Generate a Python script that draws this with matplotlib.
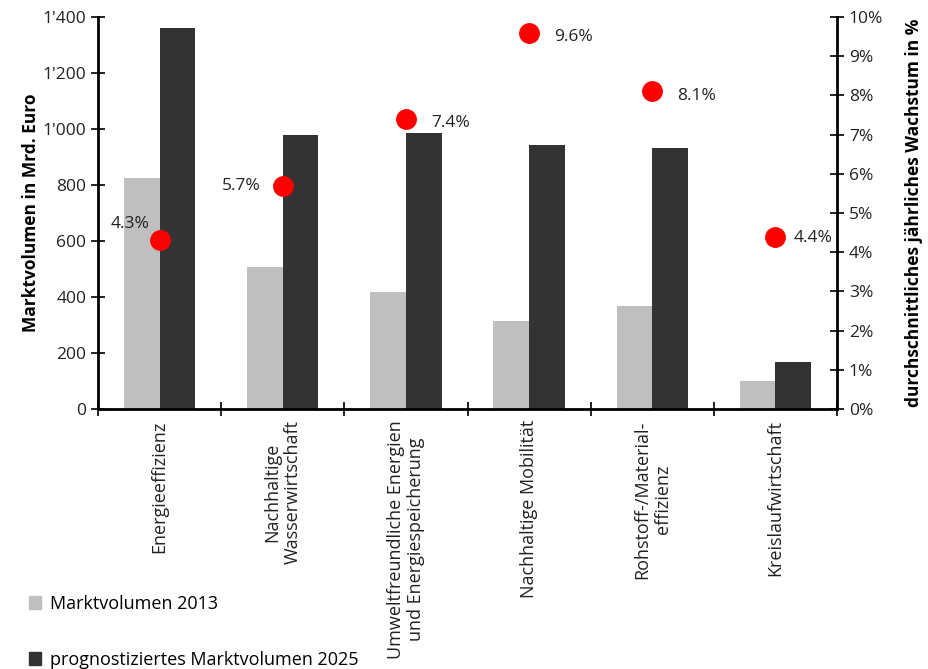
import numpy as np
import matplotlib; matplotlib.use("Agg"); import matplotlib.pyplot as plt
from matplotlib.ticker import FuncFormatter, PercentFormatter
from matplotlib.patches import Patch

plt.rcParams["font.family"] = ["Open Sans", "DejaVu Sans"]

categories = ["Energieeffizienz", "Nachhaltige\nWasserwirtschaft",
              "Umweltfreundliche Energien\nund Energiespeicherung", "Nachhaltige Mobilität",
              "Rohstoff-/Material-\neffizienz", "Kreislaufwirtschaft"]
vol_2013 = [825, 507, 418, 314, 368, 100]
vol_2025 = [1361, 979, 986, 943, 932, 168]
growth = [4.3, 5.7, 7.4, 9.6, 8.1, 4.4]
# label placement for the growth values (offset in points)
lab_off = [(-21, 12), (-30, 0), (32, -3), (32, -3), (32, -3), (27, -1)]

fig = plt.figure(figsize=(9.29, 6.69), dpi=100)
ax = fig.add_axes([0.1055, 0.3886, 0.7955, 0.586])
x = np.arange(len(categories))
w = 0.29
ax.bar(x - w / 2, vol_2013, w, color="#bfbfbf")
ax.bar(x + w / 2, vol_2025, w, color="#333333")
ax.set_xlim(-0.5, len(categories) - 0.5)
ax.set_ylim(0, 1400)
ax.set_yticks(range(0, 1401, 200))
ax.yaxis.set_major_formatter(FuncFormatter(lambda v, p: f"{int(v):,}".replace(",", "'")))
ax.set_xticks(np.arange(len(categories) + 1) - 0.5)
ax.set_xticklabels([])
ax.set_xticks(x, minor=True)
ax.set_xticklabels(categories, minor=True, rotation=90, va="top", ha="center",
                   multialignment="center", fontsize=13, color="#222222")
ax.tick_params(axis="x", which="minor", length=0, pad=8)
ax.tick_params(axis="x", which="major", direction="inout", length=10, width=1.2)
ax.tick_params(axis="y", direction="inout", length=10, width=1.2, labelsize=12.5, labelcolor="#222222")
for s in ["top", "right"]:
    ax.spines[s].set_visible(False)
for s in ["left", "bottom"]:
    ax.spines[s].set_linewidth(2)
ax.set_ylabel("Marktvolumen in Mrd. Euro", fontsize=12.5, fontweight="bold", labelpad=2)

ax2 = ax.twinx()
ax2.set_ylim(0, 10)
ax2.set_yticks(range(0, 11))
ax2.yaxis.set_major_formatter(PercentFormatter(decimals=0))
ax2.plot(x, growth, "o", color="#ff0000", ms=14, zorder=5)
for xi, g, off in zip(x, growth, lab_off):
    ax2.annotate(f"{g}%", (xi, g), xytext=off, textcoords="offset points",
                 ha="center", va="center", fontsize=12.5, color="#222222")
for s in ["top", "left", "bottom"]:
    ax2.spines[s].set_visible(False)
ax2.spines["right"].set_linewidth(2)
ax2.tick_params(axis="y", direction="inout", length=10, width=1.2, labelsize=12.5, labelcolor="#222222")
ax2.set_ylabel("durchschnittliches jährliches Wachstum in %", fontsize=12.5, fontweight="bold", labelpad=16)

handles = [Patch(color="#bfbfbf", label="Marktvolumen 2013"),
           Patch(color="#333333", label="prognostiziertes Marktvolumen 2025")]
fig.legend(handles=handles, loc="upper left", bbox_to_anchor=(0.031, 0.111), frameon=False,
           fontsize=13, handlelength=0.7, handleheight=0.7, handletextpad=0.45, labelspacing=2.1,
           borderaxespad=0, borderpad=0)
fig.savefig("out.png", dpi=100)
